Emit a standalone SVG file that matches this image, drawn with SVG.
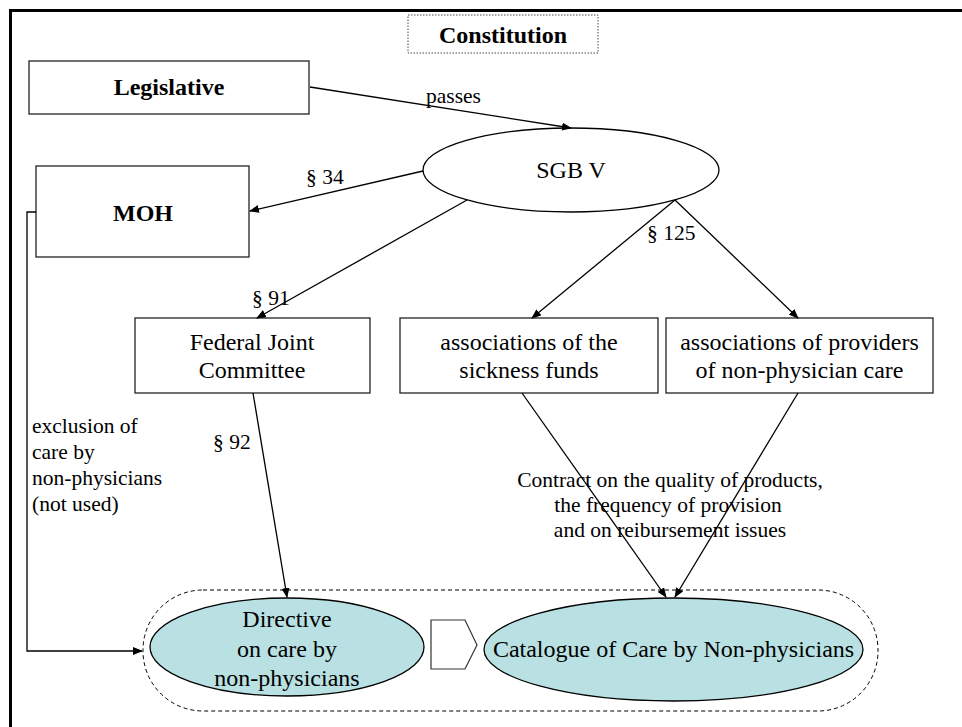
<svg xmlns="http://www.w3.org/2000/svg" width="962" height="727" viewBox="0 0 962 727">
<defs>
<marker id="ah" markerWidth="10" markerHeight="8" refX="9" refY="4" orient="auto" markerUnits="userSpaceOnUse">
<path d="M0,0 L10,4 L0,8 Z" fill="#000"/>
</marker>
<style>
.box{fill:#fff;stroke:#222;stroke-width:1.3}
.t{font-family:"Liberation Serif","Times New Roman",serif;font-size:24px;fill:#000;text-anchor:middle}
.b{font-weight:bold}
.s{font-family:"Liberation Serif","Times New Roman",serif;font-size:21.5px;fill:#000}
.c{fill:none;stroke:#000;stroke-width:1.3}
.cl{fill:#b9e0e2;stroke:#000;stroke-width:1.3}
</style>
</defs>
<rect width="962" height="727" fill="#fff"/>
<g id="frame">
<line x1="10" y1="10.5" x2="962" y2="10.5" stroke="#000" stroke-width="3"/>
<line x1="10.5" y1="9" x2="10.5" y2="727" stroke="#000" stroke-width="3"/>
</g>
<g id="container">
<rect x="143" y="590" width="735" height="121" rx="60" ry="60" fill="none" stroke="#000" stroke-width="1" stroke-dasharray="4,3"/>
</g>
<g id="constitution">
<rect x="408" y="15" width="190" height="38" fill="#fff" stroke="#444" stroke-width="1" stroke-dasharray="1.5,1.5"/>
<text class="t b" x="503" y="43">Constitution</text>
</g>
<g id="legislative">
<rect class="box" x="29" y="61" width="280" height="53"/>
<text class="t b" x="169" y="95">Legislative</text>
</g>
<g id="sgbv">
<ellipse cx="571" cy="170" rx="148" ry="42" fill="#fff" stroke="#000" stroke-width="1.3"/>
<text class="t" x="571" y="178">SGB V</text>
</g>
<g id="moh">
<rect class="box" x="36" y="166" width="213" height="91"/>
<text class="t b" x="143" y="221">MOH</text>
</g>
<g id="fjc">
<rect class="box" x="135" y="318" width="235" height="75"/>
<text class="t" x="252" y="350">Federal Joint</text>
<text class="t" x="252" y="378">Committee</text>
</g>
<g id="sickness">
<rect class="box" x="400" y="318" width="258" height="75"/>
<text class="t" x="529" y="350">associations of the</text>
<text class="t" x="529" y="378">sickness funds</text>
</g>
<g id="providers">
<rect class="box" x="666" y="318" width="267" height="75"/>
<text class="t" x="799.5" y="350">associations of providers</text>
<text class="t" x="799.5" y="378">of non-physician care</text>
</g>
<g id="directive">
<ellipse class="cl" cx="287" cy="647" rx="137" ry="49"/>
<text class="t" x="287" y="627">Directive</text>
<text class="t" x="287" y="657">on care by</text>
<text class="t" x="287" y="686">non-physicians</text>
</g>
<g id="pentagon">
<path d="M431,620 L465,620 L477,645 L465,669 L431,669 Z" fill="#fff" stroke="#333" stroke-width="1.2"/>
</g>
<g id="catalogue">
<ellipse class="cl" cx="673.5" cy="649.5" rx="189.5" ry="51.5"/>
<text class="t" x="673.5" y="657">Catalogue of Care by Non-physicians</text>
</g>
<g id="connectors">
<line class="c" x1="310" y1="87" x2="571" y2="128" marker-end="url(#ah)"/>
<line class="c" x1="423" y1="171" x2="250" y2="211" marker-end="url(#ah)"/>
<line class="c" x1="467" y1="200" x2="257" y2="318" marker-end="url(#ah)"/>
<line class="c" x1="675" y1="200" x2="532" y2="318" marker-end="url(#ah)"/>
<line class="c" x1="675" y1="200" x2="798" y2="318" marker-end="url(#ah)"/>
<line class="c" x1="253" y1="393" x2="287" y2="597" marker-end="url(#ah)"/>
<line class="c" x1="522" y1="393" x2="666" y2="597" marker-end="url(#ah)"/>
<line class="c" x1="798" y1="393" x2="675" y2="597" marker-end="url(#ah)"/>
<polyline class="c" points="36,212 27,212 27,651 142,651" marker-end="url(#ah)"/>
<text class="s" x="426" y="103">passes</text>
<text class="s" x="306" y="184">§ 34</text>
<text class="s" x="252" y="305">§ 91</text>
<text class="s" x="647" y="240">§ 125</text>
<text class="s" x="213" y="449">§ 92</text>
<text class="s" x="32" y="433">exclusion of</text>
<text class="s" x="32" y="459">care by</text>
<text class="s" x="32" y="485">non-physicians</text>
<text class="s" x="32" y="511">(not used)</text>
<text class="s" x="670" y="487" text-anchor="middle">Contract on the quality of products,</text>
<text class="s" x="668" y="512" text-anchor="middle">the frequency of provision</text>
<text class="s" x="670" y="537" text-anchor="middle">and on reibursement issues</text>
</g>
</svg>
